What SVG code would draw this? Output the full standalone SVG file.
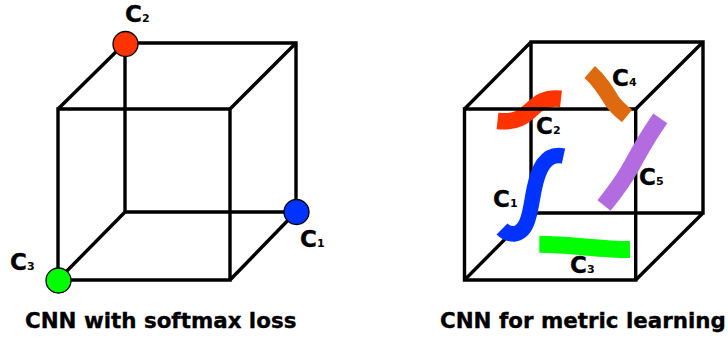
<svg xmlns="http://www.w3.org/2000/svg" width="728" height="339" viewBox="0 0 728 339">
<style>
.e{fill:none;stroke:#000;stroke-width:3.400;stroke-linejoin:miter}
.d{stroke:#000;stroke-width:1.300}
.b{fill:none;stroke-linecap:butt}
text{font-family:"DejaVu Sans",Verdana,sans-serif;font-weight:bold;fill:#000;stroke:#000;stroke-width:.35}
.c{font-size:23px}
.s{font-size:11px;stroke-width:0}
.t{font-size:21.400px}
</style>
<rect width="728" height="339" fill="#fff"/>
<g id="connectors">
<path class="e" d="M58 109H230V280H58ZM125 43H296V212H125ZM58 109L125 43M230 109L296 43M230 280L296 212M58 280L125 212"/>
<path class="e" d="M531 42H703V213H531ZM464.500 109L531 42M635.700 109L703 42M635.700 280L703 213M464.500 280L531 213"/>
</g>
<g id="c2-point"><circle class="d" cx="125.500" cy="44" r="12.500" fill="#ff3300"/><text class="c" x="125" y="22">C<tspan class="s">2</tspan></text></g>
<g id="c1-point"><circle class="d" cx="296.500" cy="212" r="12.500" fill="#0033ff"/><text class="c" x="300" y="247">C<tspan class="s">1</tspan></text></g>
<g id="c3-point"><circle class="d" cx="58.500" cy="280.500" r="12.500" fill="#00ff00"/><text class="c" x="10" y="270">C<tspan class="s">3</tspan></text></g>
<g id="title-left"><text class="t" x="25" y="328">CNN with softmax loss</text></g>
<g id="c2-cluster"><path class="b" d="M561 98.700C528 95 535 125 497.500 121" stroke="#ff3300" stroke-width="16.500"/><text class="c" x="536" y="134">C<tspan class="s">2</tspan></text></g>
<g id="cube-right"><path class="e" d="M464.500 109H635.700V280H464.500Z"/></g>
<g id="c3-cluster"><path class="b" d="M539.300 244.300C570 244.500 600 249.500 630 249.500" stroke="#00ff00" stroke-width="17"/><text class="c" x="570" y="273">C<tspan class="s">3</tspan></text></g>
<g id="c5-cluster"><path class="b" d="M660.300 118.300C648 136 640 150 632 165C625 178 615 192 604 205.500" stroke="#b36be0" stroke-width="17"/><text class="c" x="639" y="185">C<tspan class="s">5</tspan></text></g>
<g id="c4-cluster"><path class="b" d="M589.700 72C600 81 606 91 612 101C616 107 621 111 627 116" stroke="#dd6a10" stroke-width="16"/><text class="c" x="612" y="86">C<tspan class="s">4</tspan></text></g>
<g id="c1-cluster"><path class="b" d="M563.500 156C545 152 538 170 534 190C530 210 529 232 514 234C509 234 505 232 502 229" stroke="#0033ff" stroke-width="15.500"/><text class="c" x="493" y="207">C<tspan class="s">1</tspan></text></g>
<g id="title-right"><text class="t" x="440" y="328">CNN for metric learning</text></g>
</svg>
